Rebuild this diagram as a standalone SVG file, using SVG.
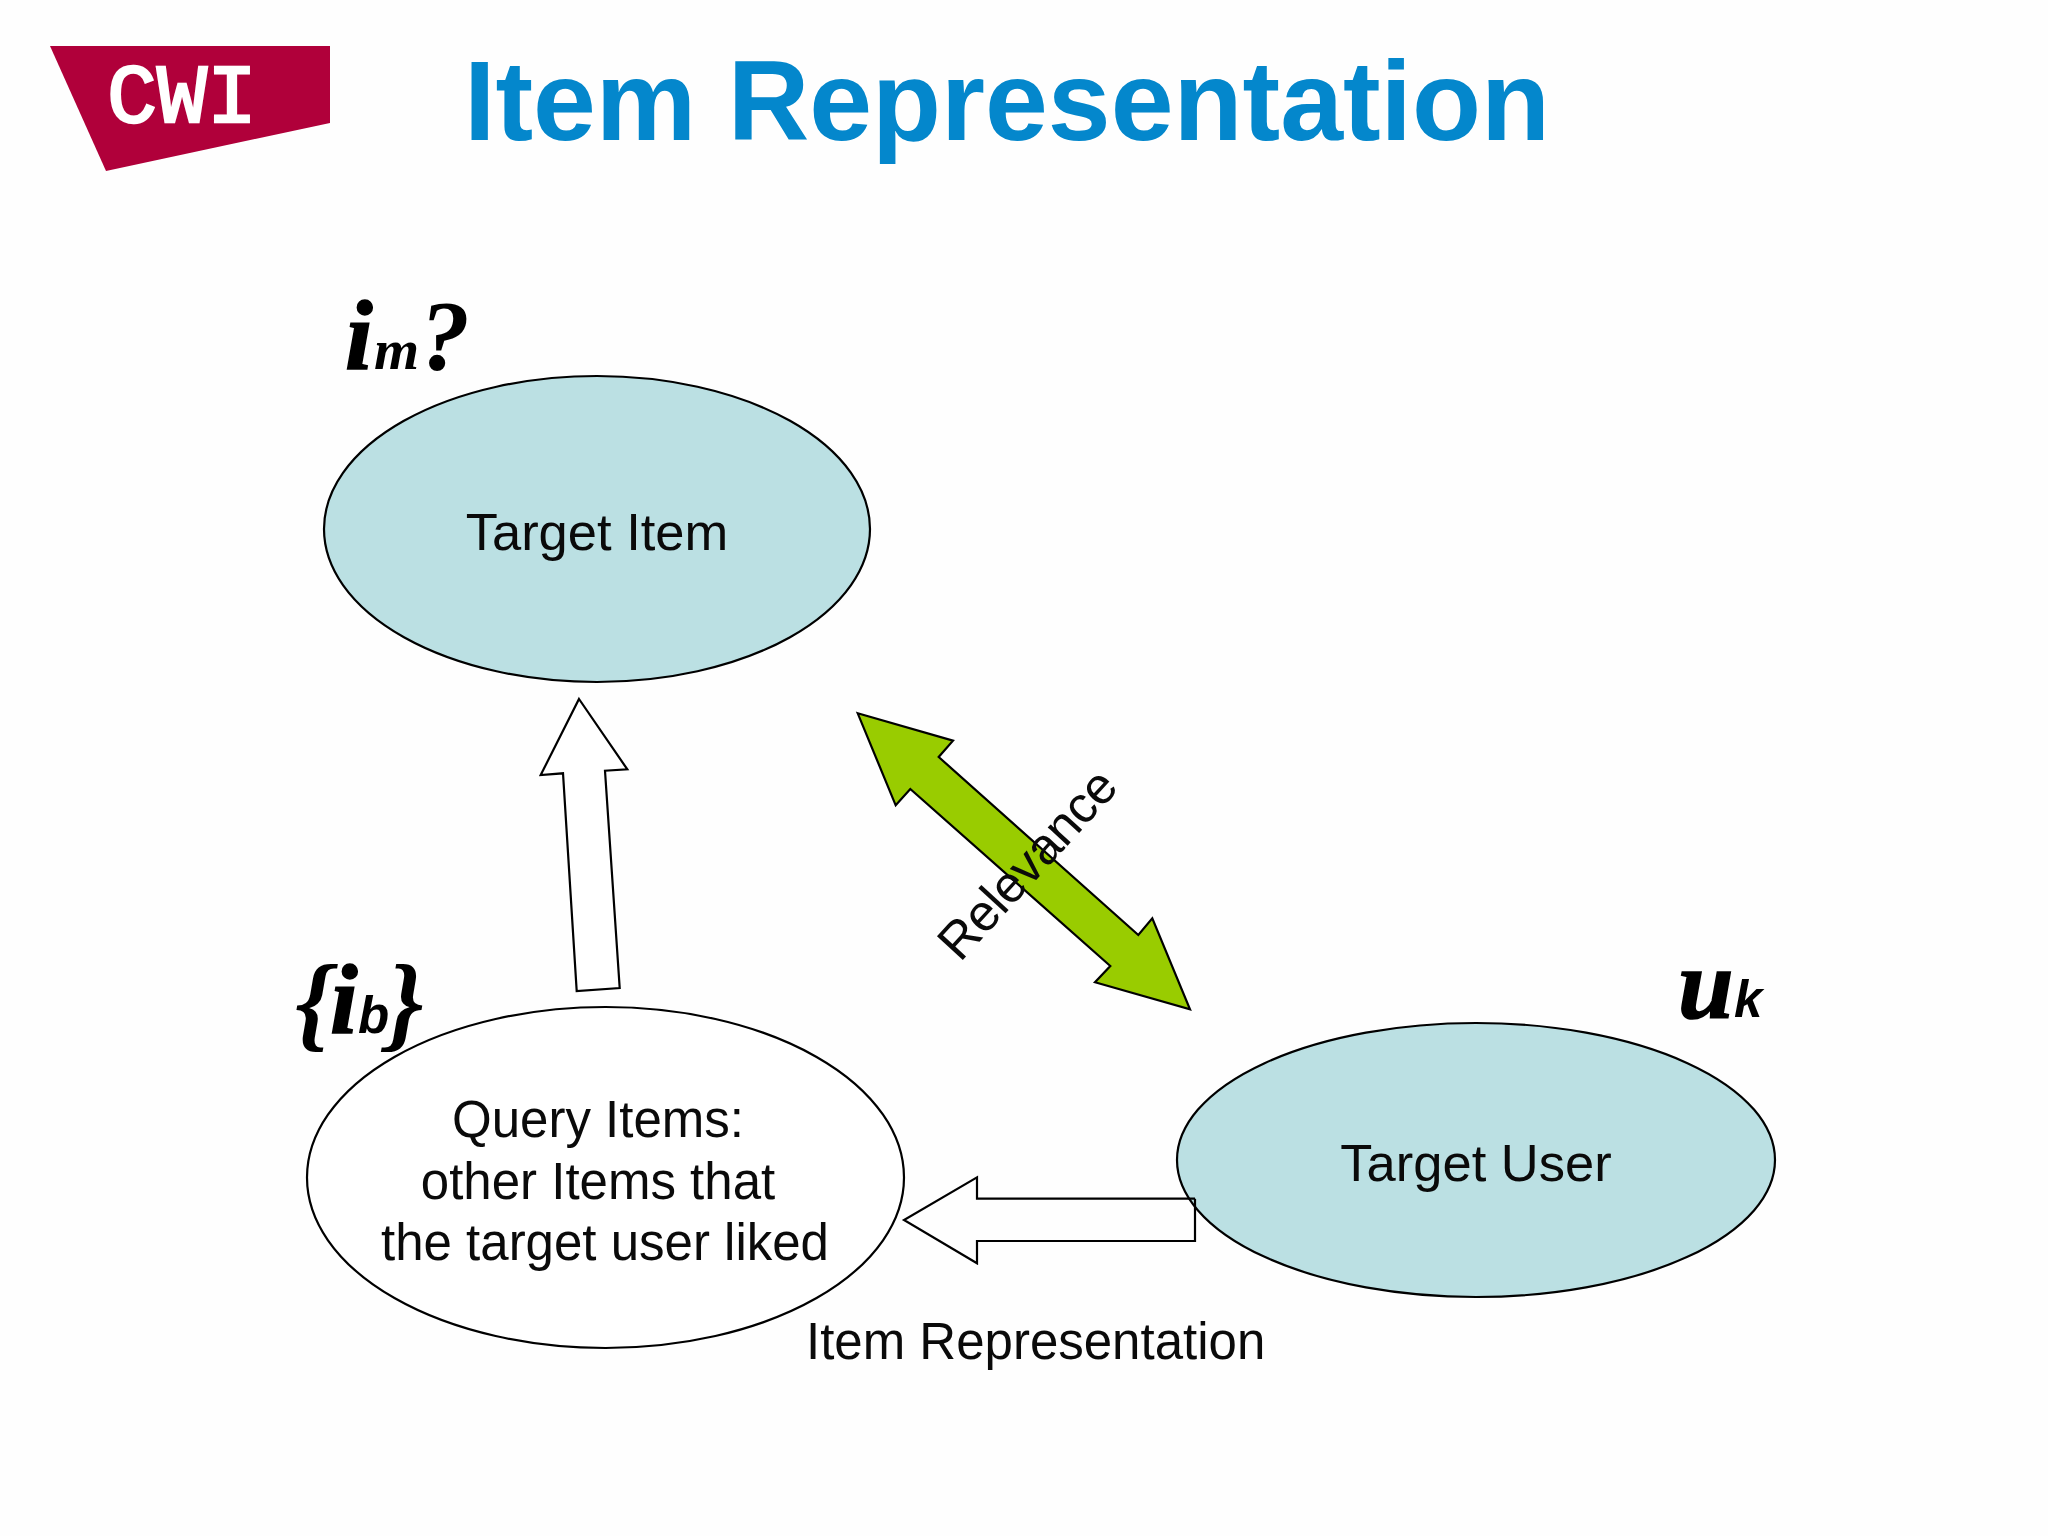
<svg xmlns="http://www.w3.org/2000/svg" width="2048" height="1536" viewBox="0 0 2048 1536">
<style>
.l{font-family:"Liberation Sans",Arial,sans-serif;font-size:51px;fill:#0a0a0a}
.t{font-size:52.5px}
.m{font-family:"Liberation Serif","Times New Roman",serif;font-weight:bold;font-style:italic;fill:#000}
.s{font-family:"Liberation Sans",Arial,sans-serif;font-weight:bold;font-style:italic;fill:#000}
.h{stroke:#000;stroke-width:1.5}
.n{stroke:#000;stroke-width:2.2}
.c{text-anchor:middle}
</style>
<rect width="2048" height="1536" fill="#fefefe"/>
<g id="logo">
<polygon points="50,46 330,46 330,123 106,171" fill="#b0003a"/>
<text x="107" y="122" font-family="Liberation Mono,monospace" font-size="84" fill="#fff" stroke="#fff" stroke-width="2.5" textLength="150" lengthAdjust="spacingAndGlyphs">CWI</text>
</g>
<text id="title" x="464" y="140" font-family="Liberation Sans,Arial,sans-serif" font-weight="bold" font-size="114" fill="#0487cc" textLength="1086" lengthAdjust="spacingAndGlyphs">Item Representation</text>
<g id="connectors">
<polygon class="n" fill="#fff" points="579,699 627.3,769.3 605,770.7 619.7,988 576.7,991 563,773.3 540.7,775"/>
<polygon class="n" fill="#99cc00" points="857.7,713.3 953,740.7 938.7,757 1138.3,935 1152.3,918.3 1190,1009.3 1095,982.3 1110.3,966 910.3,789 895.7,805.3"/>
<text class="l" letter-spacing="-0.5" transform="translate(960,963) rotate(-47.5)">Relevance</text>
</g>
<g id="target-item">
<ellipse class="n" cx="597" cy="529" rx="273" ry="153" fill="#bbe0e3"/>
<text class="l t c" x="597" y="550">Target Item</text>
<text class="m h" x="345" y="369" font-size="100">i</text>
<text class="m" x="374" y="369" font-size="58">m</text>
<text class="m" x="420" y="369" font-size="100">?</text>
</g>
<g id="query-items">
<ellipse class="n" cx="605.5" cy="1177.5" rx="298.5" ry="170.5" fill="#fff"/>
<text class="l c" x="598" y="1137">Query Items:</text>
<text class="l c" x="598" y="1198.5">other Items that</text>
<text class="l c" x="605" y="1260">the target user liked</text>
<text class="m" x="295" y="1038" font-size="105">{</text>
<text class="m h" x="330" y="1033" font-size="100">i</text>
<text class="s" x="358" y="1033" font-size="51">b</text>
<text class="m" x="387" y="1038" font-size="105">}</text>
</g>
<g id="target-user">
<ellipse class="n" cx="1476" cy="1160" rx="299" ry="137" fill="#bbe0e3"/>
<text class="l t c" x="1476" y="1181">Target User</text>
<text class="m h" x="1678" y="1018" font-size="100">u</text>
<text class="s" x="1734" y="1017" font-size="51">k</text>
</g>
<g id="item-arrow">
<polyline class="n" fill="#fff" fill-opacity="0" points="1195,1198.7 977,1198.7 977,1177.3 904,1220 977,1263.3 977,1241 1195,1241 1195,1198.7"/>
<text class="l" x="806" y="1358.5">Item Representation</text>
</g>
</svg>
